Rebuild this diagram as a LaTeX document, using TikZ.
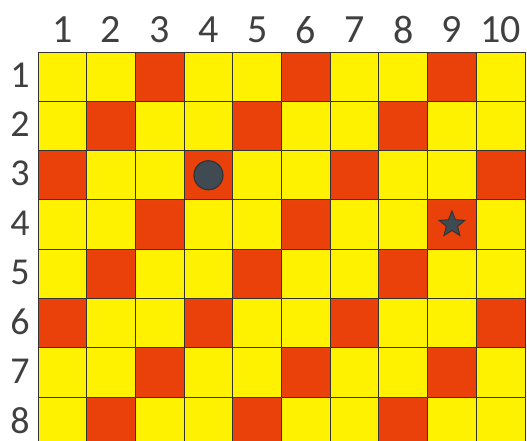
\documentclass[tikz,border=0pt]{standalone}
\usepackage{fontspec}
\setmainfont{Carlito}
\usetikzlibrary{shapes.geometric}

\definecolor{cellred}{RGB}{234,64,10}
\definecolor{cellyellow}{RGB}{255,242,0}
\definecolor{piecegray}{RGB}{64,74,82}
\definecolor{labelgray}{RGB}{64,64,64}

\begin{document}
\begin{tikzpicture}[x=1pt, y=-1pt,
        cell/.style={draw=black!80, line width=0.9pt, minimum width=48.7pt, minimum height=49.3pt, inner sep=0pt, outer sep=0pt},
        colnum/.style={font=\fontsize{40}{40}\selectfont, text=labelgray, inner sep=0pt},
        rownum/.style={font=\fontsize{38}{38}\selectfont, text=labelgray, inner sep=0pt}]
        \useasboundingbox (0,0) rectangle (527,441);
        \clip (0,0) rectangle (527,441);

        % board
        \foreach \r in {1,...,8} {
            \foreach \c in {1,...,10} {
                \pgfmathtruncatemacro{\m}{mod(\r+\c,3)}
                \ifnum\m=1 \def\cellcol{cellred}\else\def\cellcol{cellyellow}\fi
                \node[cell, fill=\cellcol] (c-\r-\c) at ({38+48.7*(\c-0.5)}, {52+49.3*(\r-0.5)}) {};
            }
        }

        % labels
        \foreach \c in {1,...,10}
            \node[colnum] (col-\c) at ({38+48.7*(\c-0.5)}, 30) {\c};
        \foreach \r in {1,...,8}
            \node[rownum] (row-\r) at (20, {50.5+49.3*(\r-0.5)}) {\r};

        % pieces
        \node[circle, fill=piecegray, draw=black!80, line width=1.2pt, minimum size=29pt, inner sep=0pt] (disc) at (c-3-4) {};
        \node[star, star points=5, star point ratio=2.3, fill=piecegray, draw=black!80, line width=1pt, minimum size=27pt, inner sep=0pt] (target) at (c-4-9) {};
    \end{tikzpicture}
\end{document}
